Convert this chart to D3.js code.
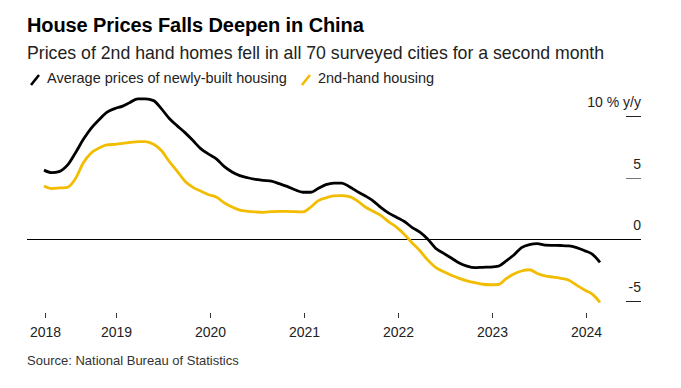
<!DOCTYPE html>
<html>
<head>
<meta charset="utf-8">
<script src="https://cdn.jsdelivr.net/npm/d3@7"></script>
<style>
  html, body { margin: 0; padding: 0; background: #fff; }
  svg { display: block; font-family: "Liberation Sans", Arial, sans-serif; }
</style>
</head>
<body>
<svg id="chart" width="681" height="388"></svg>
<script>
// ---- data ----
const startYear = 2018, startMonth = 3; // first observation: March 2018 (monthly to Feb 2024)
const newHomes = [5.6, 5.4, 5.5, 6.0, 7.0, 8.1, 9.0, 9.7, 10.3, 10.6, 10.8, 11.1,
  11.4, 11.4, 11.25, 10.6, 9.8, 9.2, 8.65, 8.0, 7.35, 6.9, 6.5, 5.9,
  5.45, 5.15, 4.98, 4.85, 4.77, 4.7, 4.5, 4.28, 4.0, 3.8, 3.8, 4.1,
  4.42, 4.55, 4.55, 4.25, 3.85, 3.5, 3.1, 2.55, 2.1, 1.75, 1.4, 0.95,
  0.55, 0.0, -0.75, -1.15, -1.55, -1.95, -2.2, -2.33, -2.3, -2.28, -2.2, -1.8,
  -1.3, -0.7, -0.45, -0.38, -0.5, -0.52, -0.53, -0.56, -0.7, -0.95, -1.25, -1.9];
const secondHand = [4.3, 4.1, 4.15, 4.2, 4.9, 6.2, 7.0, 7.4, 7.65, 7.7, 7.78, 7.85,
  7.92, 7.92, 7.7, 7.2, 6.3, 5.5, 4.7, 4.2, 3.9, 3.6, 3.4, 2.95,
  2.6, 2.35, 2.25, 2.2, 2.17, 2.22, 2.25, 2.25, 2.22, 2.2, 2.6, 3.1,
  3.35, 3.5, 3.52, 3.45, 3.1, 2.6, 2.25, 1.9, 1.4, 0.95, 0.35, -0.3,
  -0.95, -1.7, -2.3, -2.65, -2.95, -3.2, -3.4, -3.55, -3.68, -3.72, -3.7, -3.25,
  -2.85, -2.6, -2.5, -2.8, -3.0, -3.1, -3.2, -3.35, -3.75, -4.15, -4.5, -5.15];
const seriesNames = ["Average prices of newly-built housing", "2nd-hand housing"];
const xTickYears = [2018, 2019, 2020, 2021, 2022, 2023, 2024];
const yTickValues = [10, 5, 0, -5];
const yTickLabels = ["10 % y/y", "5", "0", "-5"];
const titleText = "House Prices Falls Deepen in China";
const subtitleText = "Prices of 2nd hand homes fell in all 70 surveyed cities for a second month";
const sourceText = "Source: National Bureau of Statistics";

// ---- layout ----
const colors = ["#000000", "#f2bd00"];
const svg = d3.select("#chart");
const dates = newHomes.map((_, i) => new Date(startYear, startMonth - 1 + i + 1, 0));

const x = d3.scaleTime().domain([dates[0], dates[dates.length - 1]]).range([44, 600]);
const y = d3.scaleLinear().domain([-5, 10]).range([300.5, 116]);

// titles
svg.append("text").attr("x", 27).attr("y", 32)
  .attr("font-size", 20).attr("font-weight", "bold").attr("fill", "#000")
  .attr("letter-spacing", -0.1).text(titleText);
svg.append("text").attr("x", 27).attr("y", 59)
  .attr("font-size", 17.7).attr("fill", "#222").text(subtitleText);

// legend
let lx = 29;
seriesNames.forEach((name, k) => {
  const g = svg.append("g").attr("transform", `translate(${lx},0)`);
  g.append("line").attr("x1", 2).attr("y1", 85).attr("x2", 10).attr("y2", 75)
    .attr("stroke", colors[k]).attr("stroke-width", 2.6);
  const t = g.append("text").attr("x", 18).attr("y", 83)
    .attr("font-size", 14.5).attr("fill", "#222").text(name);
  lx += 18 + t.node().getComputedTextLength() + 13;
});

// y axis on right
const yAxis = svg.append("g");
yTickValues.forEach((v, i) => {
  if (v !== 0) {
    yAxis.append("line").attr("x1", 626).attr("x2", 641)
      .attr("y1", Math.round(y(v)) + 0.5).attr("y2", Math.round(y(v)) + 0.5)
      .attr("stroke", v === 5 ? "#777" : "#222").attr("stroke-width", 1);
  }
  yAxis.append("text").attr("x", 641).attr("y", y(v) - 9)
    .attr("text-anchor", "end").attr("font-size", 14).attr("fill", "#222")
    .text(yTickLabels[i]);
});
// zero line
svg.append("line").attr("x1", 27).attr("x2", 641)
  .attr("y1", Math.round(y(0)) + 0.5).attr("y2", Math.round(y(0)) + 0.5)
  .attr("stroke", "#000").attr("stroke-width", 1);

// x axis
const tickDates = xTickYears.map((yr, i) => i === 0 ? dates[0] : new Date(yr, 0, 1));
const xAxis = svg.append("g");
tickDates.forEach((d, i) => {
  const px = Math.round(x(d)) + 1.5;
  xAxis.append("line").attr("x1", px).attr("x2", px).attr("y1", 313).attr("y2", 318)
    .attr("stroke", "#333").attr("stroke-width", 1);
  xAxis.append("text").attr("x", px).attr("y", 337).attr("text-anchor", "middle")
    .attr("font-size", 14).attr("fill", "#222").text(xTickYears[i]);
});

// lines
const line = d3.line().x((d, i) => x(dates[i])).y(d => y(d)).curve(d3.curveMonotoneX);
[newHomes, secondHand].forEach((s, k) => {
  svg.append("path").datum(s).attr("d", line).attr("fill", "none")
    .attr("stroke", colors[k]).attr("stroke-width", 2.8)
    .attr("stroke-linejoin", "round").attr("stroke-linecap", "butt");
});

// source
svg.append("text").attr("x", 27).attr("y", 365).attr("font-size", 13)
  .attr("fill", "#333").text(sourceText);
</script>
</body>
</html>
